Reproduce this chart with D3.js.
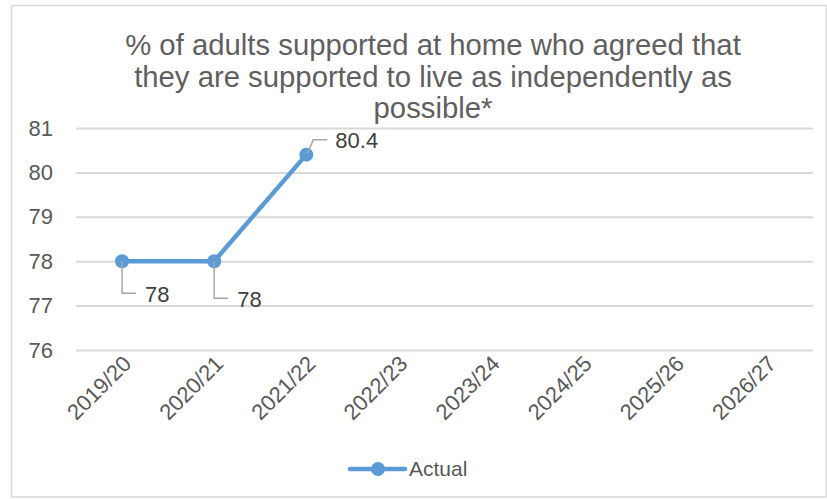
<!DOCTYPE html>
<html>
<head>
<meta charset="utf-8">
<script src="https://cdn.jsdelivr.net/npm/d3@7"></script>
<style>
  html, body { margin: 0; padding: 0; background: #ffffff; }
  svg { display: block; }
  text { font-family: "Liberation Sans", Arial, sans-serif; }
</style>
</head>
<body>
<svg id="chart" width="827" height="499"></svg>
<script>
// ---- data ----
const categories = ["2019/20", "2020/21", "2021/22", "2022/23", "2023/24", "2024/25", "2025/26", "2026/27"];
const actualValues = [78, 78, 80.4, null, null, null, null, null];
const yTickValues = [76, 77, 78, 79, 80, 81];
const titleLines = [
  "% of adults supported at home who agreed that",
  "they are supported to live as independently as",
  "possible*"
];
const seriesName = "Actual";

// ---- layout / style ----
const plot = { left: 76, right: 813, top: 128, bottom: 350 };
const lineColor = "#5b9bd5";
const gridColor = "#d9d9d9";
const textColor = "#595959";

const svg = d3.select("#chart");

// outer frame
svg.append("rect")
  .attr("x", 11.5).attr("y", 5.5)
  .attr("width", 826 - 11.5).attr("height", 497 - 5.5)
  .attr("fill", "#ffffff")
  .attr("stroke", gridColor).attr("stroke-width", 1.5);

// scales
const x = d3.scalePoint().domain(categories).range([plot.left, plot.right]).padding(0.5);
const y = d3.scaleLinear().domain([76, 81]).range([plot.bottom, plot.top]);

// y axis with gridlines
const yAxis = svg.append("g")
  .attr("transform", `translate(${plot.left},0)`)
  .call(d3.axisLeft(y).tickValues(yTickValues).tickSize(-(plot.right - plot.left)).tickPadding(23).tickFormat(d3.format("d")));
yAxis.select(".domain").remove();
yAxis.selectAll(".tick line").attr("stroke", gridColor).attr("stroke-width", 2);
yAxis.selectAll(".tick text")
  .attr("fill", textColor).attr("font-size", 22)
  .attr("font-family", "Liberation Sans, Arial, sans-serif");

// x axis labels (rotated)
const xAxis = svg.append("g")
  .attr("transform", `translate(0,${plot.bottom})`)
  .call(d3.axisBottom(x).tickSize(0).tickPadding(0));
xAxis.select(".domain").remove();
xAxis.selectAll(".tick text")
  .attr("fill", textColor).attr("font-size", 22)
  .attr("font-family", "Liberation Sans, Arial, sans-serif")
  .attr("text-anchor", "end")
  .attr("dy", null).attr("y", null)
  .attr("transform", "translate(10,15) rotate(-45)");

// title
const title = svg.append("text")
  .attr("text-anchor", "middle")
  .attr("fill", "#5f5f5f")
  .attr("font-size", 29.3);
titleLines.forEach((t, i) => {
  title.append("tspan").attr("x", 433).attr("y", 55 + i * 31.5).text(t);
});

// line series
const pts = categories.map((c, i) => ({ c, v: actualValues[i] })).filter(d => d.v != null);
const line = d3.line().x(d => x(d.c)).y(d => y(d.v));
svg.append("path")
  .datum(pts)
  .attr("d", line)
  .attr("fill", "none")
  .attr("stroke", lineColor)
  .attr("stroke-width", 4.5)
  .attr("stroke-linejoin", "round")
  .attr("stroke-linecap", "round");

svg.selectAll("circle.pt")
  .data(pts).enter().append("circle")
  .attr("class", "pt")
  .attr("cx", d => x(d.c)).attr("cy", d => y(d.v))
  .attr("r", 7).attr("fill", lineColor);

// data labels with leader lines
const labelLayout = [
  { leader: [[0, 0], [0, 32], [14, 32]], dx: 23, dy: 33 },
  { leader: [[0, 0], [0, 37], [14, 37]], dx: 23, dy: 38 },
  { leader: [[1, -1], [7, -15], [21, -15]], dx: 29, dy: -14 }
];
pts.forEach((d, i) => {
  const L = labelLayout[i];
  const px = x(d.c), py = y(d.v);
  svg.append("path")
    .attr("d", d3.line()(L.leader.map(p => [px + p[0], py + p[1]])))
    .attr("fill", "none").attr("stroke", "#a6a6a6").attr("stroke-width", 1.5);
  svg.append("text")
    .attr("x", px + L.dx).attr("y", py + L.dy)
    .attr("dy", "0.35em")
    .attr("fill", "#404040").attr("font-size", 22)
    .text(d3.format("")(d.v));
});

// legend
const lg = svg.append("g").attr("transform", "translate(350,469)");
lg.append("line").attr("x1", 0).attr("x2", 55).attr("y1", 0).attr("y2", 0)
  .attr("stroke", lineColor).attr("stroke-width", 4.5).attr("stroke-linecap", "round");
lg.append("circle").attr("cx", 28).attr("cy", 0).attr("r", 7).attr("fill", lineColor);
lg.append("text").attr("x", 59).attr("y", 0).attr("dy", "0.35em")
  .attr("fill", textColor).attr("font-size", 21).text(seriesName);
</script>
</body>
</html>
